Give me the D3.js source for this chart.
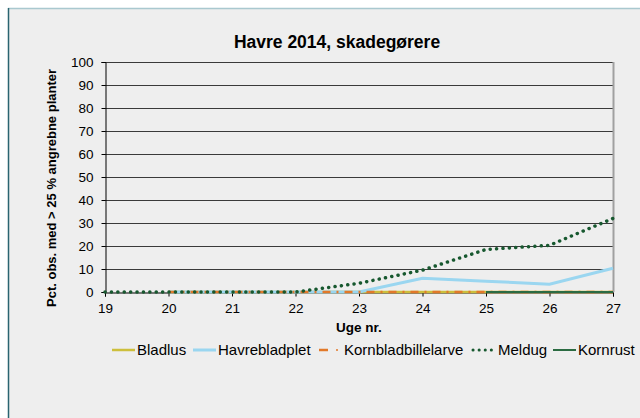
<!DOCTYPE html>
<html>
<head>
<meta charset="utf-8">
<script src="https://cdn.jsdelivr.net/npm/d3@7/dist/d3.min.js"></script>
<style>
  body { margin: 0; background: #ffffff; }
  #chart { width: 640px; height: 418px; }
  text { font-family: Arial, "Liberation Sans", sans-serif; }
</style>
</head>
<body>
<div id="chart"></div>
<script>
// week numbers on the x axis
let weeks = [19, 20, 21, 22, 23, 24, 25, 26, 27];
let yTicks = [0, 10, 20, 30, 40, 50, 60, 70, 80, 90, 100];

// series values (null = not observed)
let bladlus      = [null, 0, 0, 0, 0, 0, 0, 0, 0];
let havrebladplet = [null, 0, 0, 0, 0, 6, 4.7, 3.4, 10.3];
let kornbladbillelarve = [null, 0, 0, 0, 0, 0, 0, 0, 0];
let meldug       = [0, 0, 0, 0, 3.8, 9.5, 18.5, 20.3, 32];
let kornrust     = [null, null, null, null, null, null, 0, 0, 0];

let seriesNames = ["Bladlus", "Havrebladplet", "Kornbladbillelarve", "Meldug", "Kornrust"];
let seriesData = [bladlus, havrebladplet, kornbladbillelarve, meldug, kornrust];

let styles = {
    "Bladlus": {color: "#cdbf3c", width: 2.5, dash: null},
    "Havrebladplet": {color: "#9ad6f0", width: 3, dash: null},
    "Kornbladbillelarve": {color: "#e2792a", width: 2.5, dash: "8,6,2,6"},
    "Meldug": {color: "#17582f", width: 3.5, dash: "0.1,6.3", cap: "round"},
    "Kornrust": {color: "#2b6b42", width: 2, dash: null}
};

let width = 640, height = 418;
let margin = {left: 105, right: 27, top: 62, bottom: 126};

let svg = d3.select("#chart").append("svg")
    .attr("width", width)
    .attr("height", height);

// chart area background + frame
svg.append("rect").attr("x", 0).attr("y", 0).attr("width", width).attr("height", height).attr("fill", "#eeeeee");
svg.append("rect").attr("x", 0).attr("y", 0).attr("width", width).attr("height", 8).attr("fill", "#ffffff");
svg.append("rect").attr("x", 0).attr("y", 0).attr("width", 8).attr("height", height).attr("fill", "#ffffff");
svg.append("line").attr("x1", 8).attr("x2", width).attr("y1", 8.5).attr("y2", 8.5)
    .attr("stroke", "#a9c8cf").attr("stroke-width", 1.5);
svg.append("line").attr("x1", 8.5).attr("x2", 8.5).attr("y1", 8).attr("y2", height)
    .attr("stroke", "#2a6470").attr("stroke-width", 1.5);

let x = d3.scaleLinear()
    .domain([19, 27])
    .range([margin.left, width - margin.right]);

let y = d3.scaleLinear()
    .domain([0, 100])
    .range([height - margin.bottom, margin.top]);

// gridlines
svg.append("g")
    .selectAll("line")
    .data(yTicks.filter(d => d > 0))
    .enter().append("line")
    .attr("x1", x(19)).attr("x2", x(27))
    .attr("y1", d => Math.round(y(d)) + 0.5)
    .attr("y2", d => Math.round(y(d)) + 0.5)
    .attr("stroke", "#3a3a3a")
    .attr("stroke-width", 1);

// right plot edge
svg.append("line")
    .attr("x1", x(27) + 0.5).attr("x2", x(27) + 0.5)
    .attr("y1", y(100)).attr("y2", y(0))
    .attr("stroke", "#a0a0a0").attr("stroke-width", 2);

// y axis
let yAxis = svg.append("g")
    .attr("transform", "translate(" + (Math.round(x(19)) + 0.5) + ",0)")
    .call(d3.axisLeft(y).tickValues(yTicks).tickSize(4).tickPadding(8));
yAxis.select(".domain").attr("stroke", "#000");
yAxis.selectAll(".tick line").attr("stroke", "#000");
yAxis.selectAll("text").attr("font-size", 13.5).attr("fill", "#000")
    .style("font-family", "Arial, 'Liberation Sans', sans-serif");

// x axis
let xAxis = svg.append("g")
    .attr("transform", "translate(0," + (Math.round(y(0)) + 0.5) + ")")
    .call(d3.axisBottom(x).tickValues(weeks).tickFormat(d3.format("d")).tickSize(4).tickPadding(7));
xAxis.select(".domain").attr("stroke", "#000");
xAxis.selectAll(".tick line").attr("stroke", "#000");
xAxis.selectAll("text").attr("font-size", 13.5).attr("fill", "#000")
    .style("font-family", "Arial, 'Liberation Sans', sans-serif");

// lines
let line = d3.line()
    .defined(d => d.v !== null)
    .x(d => x(d.w))
    .y(d => y(d.v));

seriesNames.forEach((name, i) => {
    let pts = weeks.map((w, j) => ({w: w, v: seriesData[i][j]}));
    let st = styles[name];
    svg.append("path")
        .datum(pts)
        .attr("d", line)
        .attr("fill", "none")
        .attr("stroke", st.color)
        .attr("stroke-width", st.width)
        .attr("stroke-dasharray", st.dash)
        .attr("stroke-linecap", st.cap || "butt");
});

// titles
svg.append("text")
    .attr("x", 337).attr("y", 48)
    .attr("text-anchor", "middle")
    .attr("font-size", 17.5).attr("font-weight", "bold")
    .text("Havre 2014, skadegørere");

svg.append("text")
    .attr("transform", "translate(56,188) rotate(-90)")
    .attr("text-anchor", "middle")
    .attr("font-size", 13).attr("font-weight", "bold")
    .text("Pct. obs. med > 25 % angrebne planter");

svg.append("text")
    .attr("x", (x(19) + x(27)) / 2).attr("y", 332)
    .attr("text-anchor", "middle")
    .attr("font-size", 13.5).attr("font-weight", "bold")
    .text("Uge nr.");

// legend
let legendTextX = [137, 218, 344, 498, 578];
let legend = svg.append("g").attr("transform", "translate(0,355)");
seriesNames.forEach((name, i) => {
    let st = styles[name];
    let tx = legendTextX[i];
    if (name === "Kornbladbillelarve") {
        legend.append("line").attr("x1", tx - 25).attr("x2", tx - 16).attr("y1", -5).attr("y2", -5)
            .attr("stroke", st.color).attr("stroke-width", 2.5);
        legend.append("circle").attr("cx", tx - 7).attr("cy", -5).attr("r", 1)
            .attr("fill", st.color);
    } else {
        legend.append("line").attr("x1", tx - 25).attr("x2", tx - 2).attr("y1", -5).attr("y2", -5)
            .attr("stroke", st.color).attr("stroke-width", name === "Meldug" ? 3 : st.width)
            .attr("stroke-dasharray", name === "Meldug" ? "0.1,6" : null)
            .attr("stroke-linecap", st.cap || "butt");
    }
    legend.append("text")
        .attr("x", tx).attr("y", 0)
        .attr("font-size", 15)
        .text(name);
});
</script>
</body>
</html>
